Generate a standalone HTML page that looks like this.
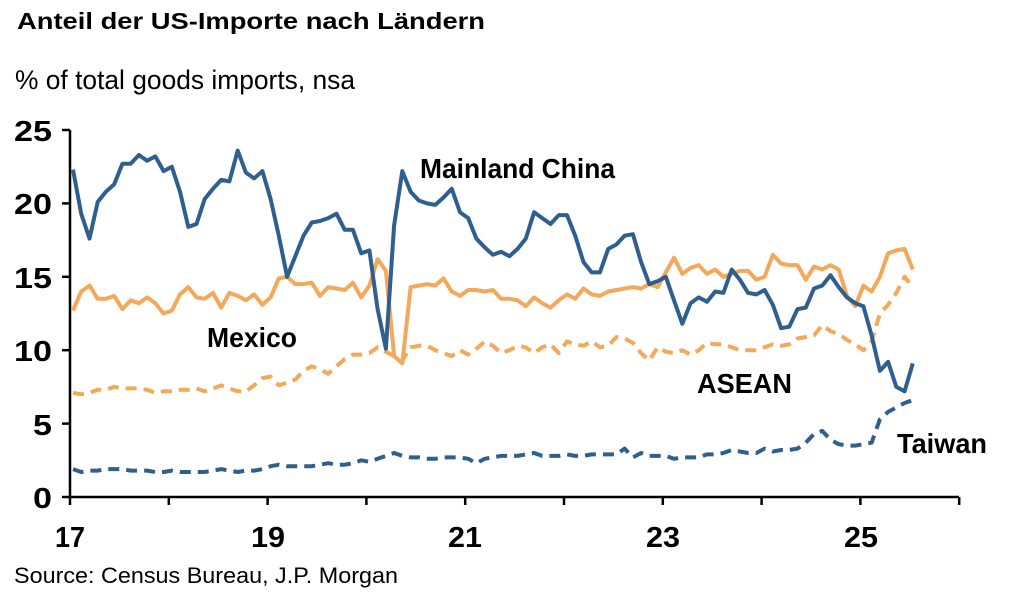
<!DOCTYPE html>
<html><head><meta charset="utf-8"><style>
body{margin:0;background:#fff;width:1024px;height:603px;overflow:hidden}
svg text{font-family:"Liberation Sans",Arial,sans-serif}
</style></head><body>
<svg id="s" width="1024" height="603" xmlns="http://www.w3.org/2000/svg">
<text x="17" y="29" font-size="23" font-weight="bold" fill="#000" textLength="468" lengthAdjust="spacingAndGlyphs">Anteil der US-Importe nach Ländern</text>
<text x="15" y="89" font-size="27" fill="#000" textLength="340" lengthAdjust="spacingAndGlyphs">% of total goods imports, nsa</text>
<g font-size="29" font-weight="bold" text-anchor="end" fill="#000">
<text x="52" y="141" textLength="38" lengthAdjust="spacingAndGlyphs">25</text><text x="52" y="214" textLength="38" lengthAdjust="spacingAndGlyphs">20</text><text x="52" y="288" textLength="38" lengthAdjust="spacingAndGlyphs">15</text>
<text x="52" y="361" textLength="38" lengthAdjust="spacingAndGlyphs">10</text><text x="52" y="435" textLength="19" lengthAdjust="spacingAndGlyphs">5</text><text x="52" y="508" textLength="19" lengthAdjust="spacingAndGlyphs">0</text>
</g>
<g font-size="29" font-weight="bold" text-anchor="middle" fill="#000">
<text x="70" y="547" textLength="30" lengthAdjust="spacingAndGlyphs">17</text><text x="268" y="547" textLength="34" lengthAdjust="spacingAndGlyphs">19</text><text x="465" y="547" textLength="34" lengthAdjust="spacingAndGlyphs">21</text>
<text x="663" y="547" textLength="34" lengthAdjust="spacingAndGlyphs">23</text><text x="861" y="547" textLength="34" lengthAdjust="spacingAndGlyphs">25</text>
</g>
<g id="ax" stroke="#000" stroke-width="2.5" fill="none"></g>
<g id="ln" fill="none" stroke-width="4" stroke-linejoin="round"></g>
<g font-size="28" font-weight="bold" fill="#000">
<text x="420" y="178" textLength="195" lengthAdjust="spacingAndGlyphs">Mainland China</text>
<text x="207" y="347" textLength="90" lengthAdjust="spacingAndGlyphs">Mexico</text>
<text x="697" y="393" textLength="95" lengthAdjust="spacingAndGlyphs">ASEAN</text>
<text x="897" y="453" textLength="90" lengthAdjust="spacingAndGlyphs">Taiwan</text>
</g>
<text x="14" y="583" font-size="22" fill="#000" textLength="384" lengthAdjust="spacingAndGlyphs">Source: Census Bureau, J.P. Morgan</text>
</svg>
<script>
var X0=70,DX=98.8/12,Y0=497,SY=14.68;
var ax='<path d="M70 130V497H959"/>';
for(var i=0;i<=5;i++){var y=Y0-i*5*SY;ax+='<path d="M62 '+y+'H70"/>';}
for(var i=0;i<=9;i++){var x=X0+i*98.8;ax+='<path d="M'+x+' 497V505"/>';}
document.getElementById('ax').innerHTML=ax;
var china=[22.3,19.3,17.6,20.1,20.8,21.3,22.7,22.7,23.3,22.9,23.2,22.2,22.5,20.8,18.4,18.6,20.3,21.0,21.6,21.5,23.6,22.1,21.7,22.2,20.3,17.8,15.0,16.4,17.8,18.7,18.8,19.0,19.3,18.2,18.2,16.6,16.8,12.8,10.1,18.5,22.2,20.8,20.2,20.0,19.9,20.4,21.0,19.4,19.0,17.6,17.0,16.5,16.7,16.4,16.9,17.6,19.4,19.0,18.6,19.2,19.2,17.8,16.0,15.3,15.3,16.9,17.2,17.8,17.9,16.0,14.5,14.7,15.0,13.4,11.8,13.2,13.6,13.3,14.0,13.9,15.5,14.8,13.9,13.8,14.1,13.1,11.5,11.6,12.8,12.9,14.2,14.4,15.1,14.3,13.6,13.2,13.0,11.0,8.6,9.2,7.5,7.2,9.1];
var mex=[12.7,14.0,14.4,13.5,13.5,13.7,12.8,13.4,13.2,13.6,13.2,12.5,12.7,13.8,14.3,13.6,13.5,13.9,12.9,13.9,13.7,13.4,13.8,13.1,13.6,14.9,15.0,14.5,14.5,14.6,13.7,14.3,14.2,14.1,14.6,13.6,14.4,16.2,15.4,9.6,9.1,14.3,14.4,14.5,14.4,14.9,14.0,13.7,14.1,14.1,14.0,14.1,13.5,13.5,13.4,13.0,13.6,13.2,12.9,13.4,13.8,13.5,14.2,13.8,13.7,14.0,14.1,14.2,14.3,14.2,14.5,14.3,15.3,16.3,15.2,15.6,15.8,15.2,15.5,15.0,15.2,15.4,15.4,14.8,15.0,16.5,15.9,15.8,15.8,14.8,15.7,15.5,15.8,15.5,13.7,13.0,14.4,14.0,15.0,16.6,16.8,16.9,15.5];
var asean=[7.1,7.0,7.1,7.3,7.3,7.5,7.4,7.4,7.4,7.3,7.1,7.2,7.2,7.3,7.3,7.4,7.2,7.4,7.6,7.4,7.2,7.2,7.6,8.1,8.2,7.6,7.8,8.0,8.6,8.9,8.7,8.4,8.9,9.4,9.7,9.7,9.8,10.2,9.9,9.6,9.3,10.2,10.3,10.3,10.0,9.8,9.6,10.0,9.7,10.1,10.6,10.3,9.8,10.0,10.3,10.2,9.8,10.2,10.4,9.8,10.6,10.4,10.3,10.6,10.2,10.3,10.9,10.8,10.5,9.8,9.3,10.2,9.9,9.8,10.0,9.7,10.0,10.5,10.4,10.4,10.2,10.0,10.0,10.0,10.2,10.4,10.3,10.4,10.8,10.9,11.0,11.7,11.3,11.1,10.7,10.4,10.0,10.6,12.5,13.1,13.9,15.0,14.3];
var tw=[1.9,1.7,1.8,1.8,1.9,1.9,1.9,1.8,1.8,1.8,1.7,1.7,1.8,1.7,1.7,1.7,1.7,1.8,1.9,1.8,1.7,1.8,1.8,1.9,2.1,2.2,2.1,2.1,2.1,2.1,2.2,2.3,2.2,2.2,2.3,2.5,2.4,2.6,2.8,3.0,2.8,2.7,2.7,2.6,2.6,2.7,2.7,2.7,2.6,2.3,2.6,2.7,2.8,2.8,2.8,2.9,3.0,2.8,2.8,2.8,2.9,2.8,2.8,2.9,2.9,2.9,2.9,3.3,2.7,3.0,2.8,2.8,2.8,2.6,2.7,2.7,2.7,2.9,2.9,3.0,3.2,3.1,3.0,3.0,3.3,3.1,3.2,3.2,3.3,3.7,4.3,4.5,3.9,3.6,3.5,3.5,3.6,3.7,5.3,5.8,6.1,6.4,6.6];
function p(a){return a.map(function(v,i){return (i?'L':'M')+(X0+3+i*DX).toFixed(1)+' '+(Y0-v*SY).toFixed(1)}).join('');}
var h='';
h+='<path d="'+p(asean)+'" stroke="#f4a85a" stroke-dasharray="11 7"/>';
h+='<path d="'+p(tw)+'" stroke="#2e5f8f" stroke-dasharray="11 7"/>';
h+='<path d="'+p(mex)+'" stroke="#f4a85a"/>';
h+='<path d="'+p(china)+'" stroke="#2e5f8f"/>';
document.getElementById('ln').innerHTML=h;
</script>
</body></html>
